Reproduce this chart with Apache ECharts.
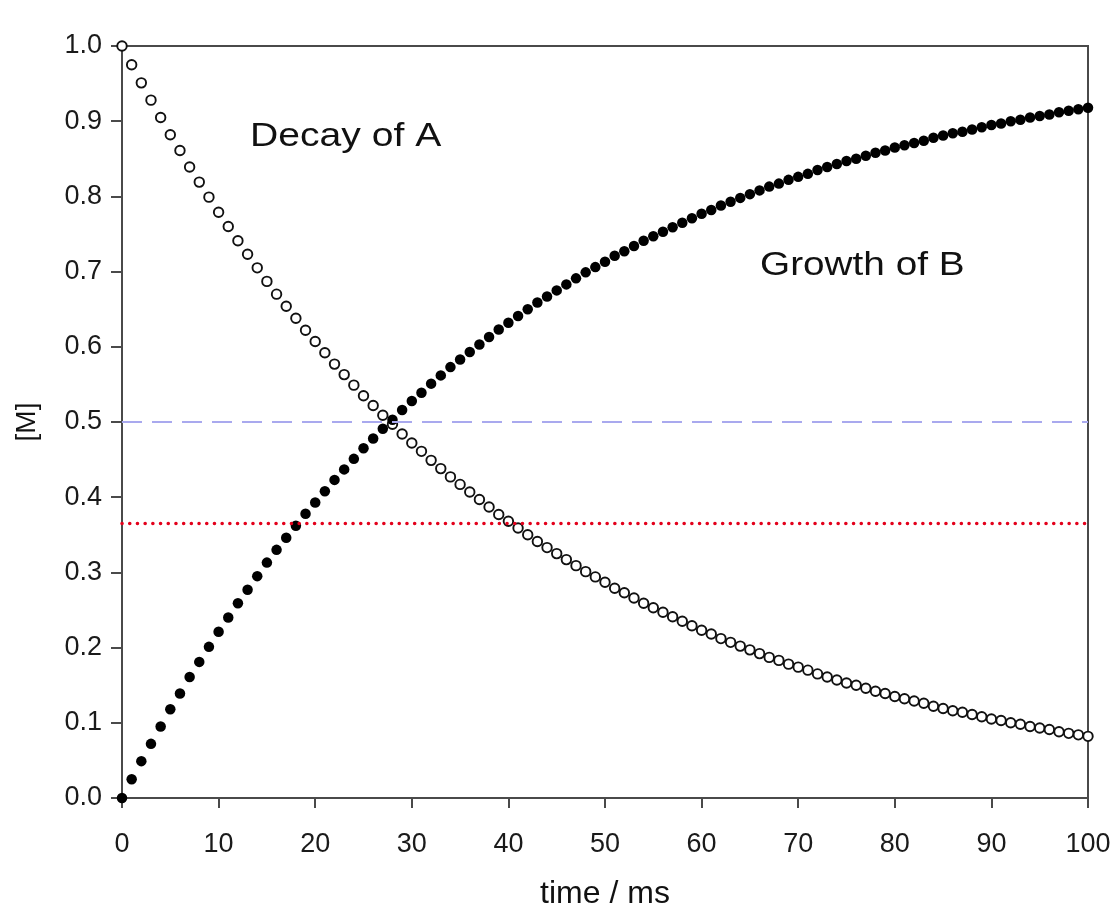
<!DOCTYPE html>
<html>
<head>
<meta charset="utf-8">
<script src="https://cdn.jsdelivr.net/npm/echarts@6/dist/echarts.min.js"></script>
<style>
  html, body { margin: 0; padding: 0; background: #ffffff; }
  #chart { width: 1119px; height: 911px; }
</style>
</head>
<body>
<div id="chart"></div>
<script>
// Sampling times (ms)
const times = [
  0, 1, 2, 3, 4, 5, 6, 7, 8, 9,
  10, 11, 12, 13, 14, 15, 16, 17, 18, 19,
  20, 21, 22, 23, 24, 25, 26, 27, 28, 29,
  30, 31, 32, 33, 34, 35, 36, 37, 38, 39,
  40, 41, 42, 43, 44, 45, 46, 47, 48, 49,
  50, 51, 52, 53, 54, 55, 56, 57, 58, 59,
  60, 61, 62, 63, 64, 65, 66, 67, 68, 69,
  70, 71, 72, 73, 74, 75, 76, 77, 78, 79,
  80, 81, 82, 83, 84, 85, 86, 87, 88, 89,
  90, 91, 92, 93, 94, 95, 96, 97, 98, 99,
  100
];

// Concentration of A [M]
const concA = [
  1.000, 0.975, 0.951, 0.928, 0.905, 0.882, 0.861, 0.839, 0.819, 0.799,
  0.779, 0.760, 0.741, 0.723, 0.705, 0.687, 0.670, 0.654, 0.638, 0.622,
  0.607, 0.592, 0.577, 0.563, 0.549, 0.535, 0.522, 0.509, 0.497, 0.484,
  0.472, 0.461, 0.449, 0.438, 0.427, 0.417, 0.407, 0.397, 0.387, 0.377,
  0.368, 0.359, 0.350, 0.341, 0.333, 0.325, 0.317, 0.309, 0.301, 0.294,
  0.287, 0.279, 0.273, 0.266, 0.259, 0.253, 0.247, 0.241, 0.235, 0.229,
  0.223, 0.218, 0.212, 0.207, 0.202, 0.197, 0.192, 0.187, 0.183, 0.178,
  0.174, 0.170, 0.165, 0.161, 0.157, 0.153, 0.150, 0.146, 0.142, 0.139,
  0.135, 0.132, 0.129, 0.126, 0.122, 0.119, 0.116, 0.114, 0.111, 0.108,
  0.105, 0.103, 0.100, 0.098, 0.095, 0.093, 0.091, 0.088, 0.086, 0.084,
  0.082
];

// Concentration of B [M]
const concB = [
  0.000, 0.025, 0.049, 0.072, 0.095, 0.118, 0.139, 0.161, 0.181, 0.201,
  0.221, 0.240, 0.259, 0.277, 0.295, 0.313, 0.330, 0.346, 0.362, 0.378,
  0.393, 0.408, 0.423, 0.437, 0.451, 0.465, 0.478, 0.491, 0.503, 0.516,
  0.528, 0.539, 0.551, 0.562, 0.573, 0.583, 0.593, 0.603, 0.613, 0.623,
  0.632, 0.641, 0.650, 0.659, 0.667, 0.675, 0.683, 0.691, 0.699, 0.706,
  0.713, 0.721, 0.727, 0.734, 0.741, 0.747, 0.753, 0.759, 0.765, 0.771,
  0.777, 0.782, 0.788, 0.793, 0.798, 0.803, 0.808, 0.813, 0.817, 0.822,
  0.826, 0.830, 0.835, 0.839, 0.843, 0.847, 0.850, 0.854, 0.858, 0.861,
  0.865, 0.868, 0.871, 0.874, 0.878, 0.881, 0.884, 0.886, 0.889, 0.892,
  0.895, 0.897, 0.900, 0.902, 0.905, 0.907, 0.909, 0.912, 0.914, 0.916,
  0.918
];

// Reference levels: half of the initial amount and 1/e of it
const halfLevel = 0.5;
const eLevel = 0.365;
const timeRange = [0, 100];

const FONT = '"Liberation Sans", Arial, Helvetica, sans-serif';
const AXIS_COLOR = '#4a4a4a';

const pairs = (xs, ys) => xs.map((x, i) => [x, ys[i]]);

const chart = echarts.init(document.getElementById('chart'), null, { renderer: 'canvas' });

chart.setOption({
  animation: false,
  backgroundColor: '#ffffff',
  grid: {
    left: 122, right: 31, top: 46, bottom: 113,
    containLabel: false,
    outerBoundsMode: 'none',
    show: true,
    borderColor: AXIS_COLOR,
    borderWidth: 2,
    backgroundColor: 'transparent'
  },
  xAxis: {
    type: 'value',
    min: 0, max: 100, interval: 10,
    name: 'time / ms',
    nameLocation: 'middle',
    nameGap: 80,
    nameTextStyle: { fontFamily: FONT, fontSize: 32, color: '#111' },
    axisLine: { show: true, lineStyle: { color: AXIS_COLOR, width: 2 } },
    axisTick: { show: true, inside: false, length: 10, lineStyle: { color: AXIS_COLOR, width: 2 } },
    axisLabel: { fontFamily: FONT, fontSize: 27, color: '#1a1a1a', margin: 33 },
    splitLine: { show: false }
  },
  yAxis: {
    type: 'value',
    min: 0, max: 1, interval: 0.1,
    name: '[M]',
    nameLocation: 'middle',
    nameRotate: 90,
    nameGap: 81,
    nameTextStyle: { fontFamily: FONT, fontSize: 28, color: '#111' },
    axisLine: { show: true, lineStyle: { color: AXIS_COLOR, width: 2 } },
    axisTick: { show: true, inside: false, length: 11, lineStyle: { color: AXIS_COLOR, width: 2 } },
    axisLabel: {
      fontFamily: FONT, fontSize: 27, color: '#1a1a1a', margin: 20,
      formatter: v => v.toFixed(1)
    },
    splitLine: { show: false }
  },
  series: [
    {
      name: 'A',
      type: 'scatter',
      clip: false,
      z: 3,
      symbol: 'circle',
      symbolSize: 9.5,
      itemStyle: { color: '#ffffff', borderColor: '#111111', borderWidth: 1.9, opacity: 1 },
      data: pairs(times, concA)
    },
    {
      name: 'B',
      type: 'scatter',
      clip: false,
      z: 4,
      symbol: 'circle',
      symbolSize: 10.5,
      itemStyle: { color: '#000000', opacity: 1 },
      data: pairs(times, concB)
    },
    {
      name: 'half',
      type: 'line',
      z: 6,
      showSymbol: false,
      symbol: 'none',
      lineStyle: { color: '#a9a9ee', width: 1.8, type: [20, 10] },
      data: timeRange.map(t => [t, halfLevel])
    },
    {
      name: 'e-fold',
      type: 'line',
      z: 6,
      showSymbol: false,
      symbol: 'none',
      lineStyle: { color: '#e3001b', width: 3.5, type: [0.1, 7.6], cap: 'round' },
      data: timeRange.map(t => [t, eLevel])
    }
  ],
  graphic: [
    {
      type: 'text',
      x: 250, y: 137,
      scaleX: 1.15,
      z: 10,
      style: {
        text: 'Decay of A',
        font: '34px ' + FONT,
        fill: '#111',
        verticalAlign: 'middle',
        align: 'left'
      }
    },
    {
      type: 'text',
      x: 760, y: 266,
      scaleX: 1.14,
      z: 10,
      style: {
        text: 'Growth of B',
        font: '34px ' + FONT,
        fill: '#111',
        verticalAlign: 'middle',
        align: 'left'
      }
    }
  ]
});
</script>
</body>
</html>
